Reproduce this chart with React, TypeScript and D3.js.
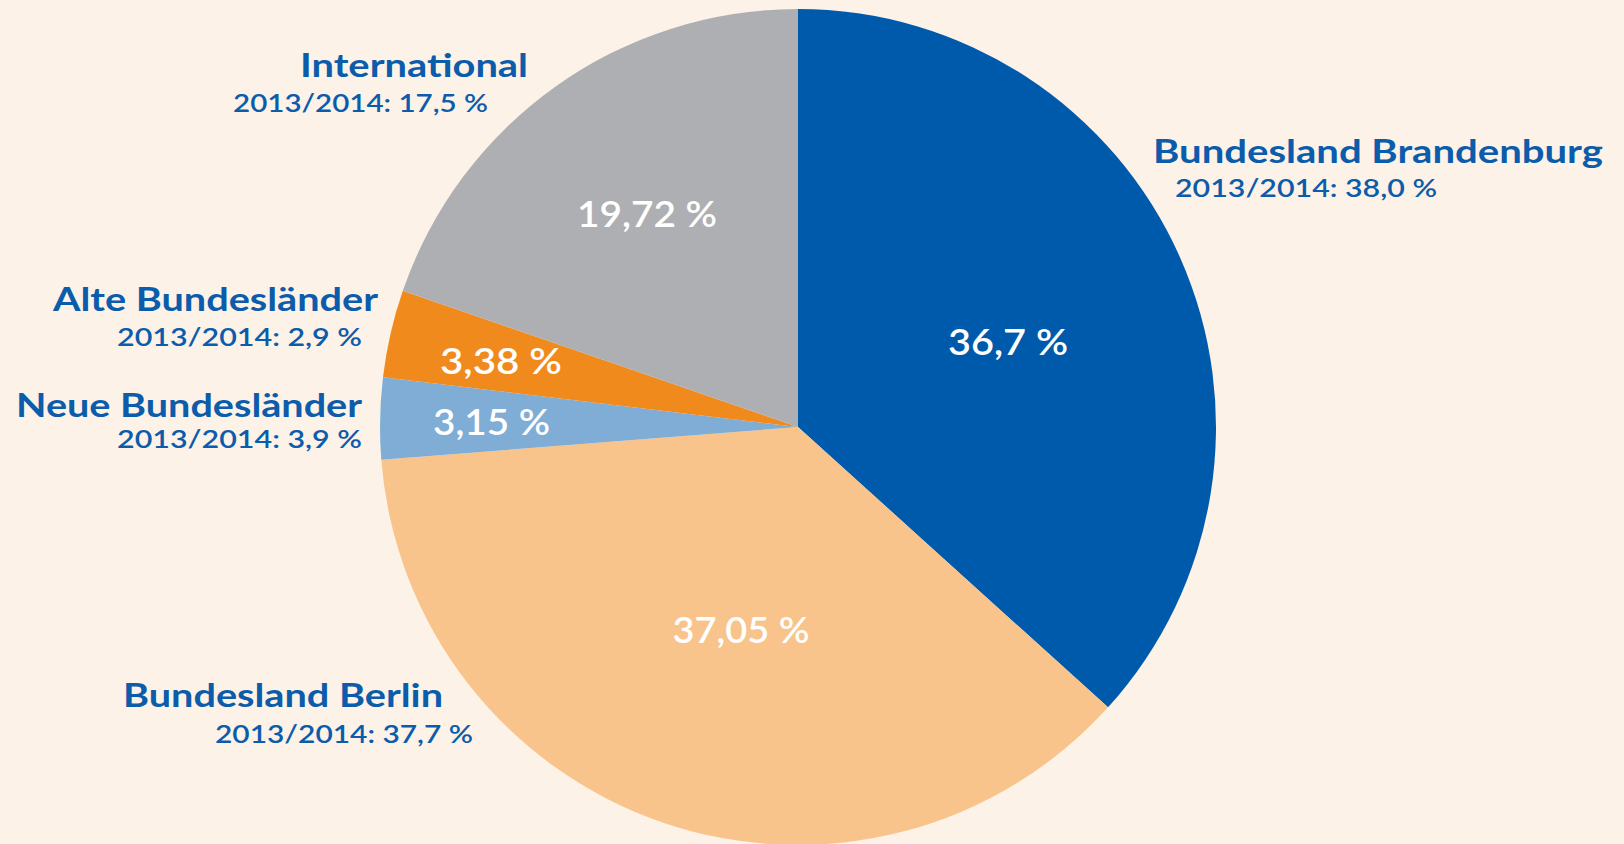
import React from "react";
import * as d3 from "d3";

const categories = ["Bundesland Brandenburg", "Bundesland Berlin", "Neue Bundesländer", "Alte Bundesländer", "International"];
const shares = [36.7, 37.05, 3.15, 3.38, 19.72];
const shareLabels = ["36,7 %", "37,05 %", "3,15 %", "3,38 %", "19,72 %"];
const previousLabels = ["2013/2014: 38,0 %", "2013/2014: 37,7 %", "2013/2014: 3,9 %", "2013/2014: 2,9 %", "2013/2014: 17,5 %"];

const colors = ["#005AAB", "#F8C48B", "#80ADD6", "#F18A1D", "#AEAFB2"];
const BG = "#FDF2E8";
const TEXT_BLUE = "#0B5CAB";

const W = 1624;
const H = 844;
const CX = 798;
const CY = 427;
const R = 418;

// label layout
const innerLayout = [
  { x: 1008, y: 355, w: 120 },
  { x: 741, y: 643, w: 137 },
  { x: 491.5, y: 435, w: 117 },
  { x: 501, y: 374, w: 122 },
  { x: 647, y: 227, w: 140 },
];
const titleLayout = [
  { x: 1153, y: 163, w: 450 },
  { x: 123, y: 707, w: 320 },
  { x: 16, y: 417, w: 346 },
  { x: 53, y: 311, w: 325 },
  { x: 300, y: 77, w: 228 },
];
const subLayout = [
  { x: 1175, y: 197, w: 262 },
  { x: 215, y: 743, w: 258 },
  { x: 117, y: 448, w: 245 },
  { x: 117, y: 346, w: 245 },
  { x: 233, y: 112, w: 255 },
];

export default function App() {
  const pie = d3.pie<number>().sort(null).value((d) => d).startAngle(0).endAngle(2 * Math.PI);
  const arcs = pie(shares);
  const arc = d3.arc<d3.PieArcDatum<number>>().innerRadius(0).outerRadius(R);
  const font = "Lato, 'Open Sans', sans-serif";

  return (
    <svg
      width={W}
      height={H}
      style={{ position: "absolute", left: 0, top: 0, display: "block" }}
      xmlns="http://www.w3.org/2000/svg"
    >
      <rect x={0} y={0} width={W} height={H} fill={BG} />
      <g transform={`translate(${CX},${CY})`}>
        {arcs.map((a, i) => (
          <path key={i} d={arc(a) || ""} fill={colors[i]} />
        ))}
      </g>
      {shareLabels.map((s, i) => (
        <text
          key={"in" + i}
          x={innerLayout[i].x}
          y={innerLayout[i].y}
          textAnchor="middle"
          fill="#FFFFFF"
          fontFamily={font}
          fontWeight={600}
          fontSize={36}
          textLength={innerLayout[i].w}
          lengthAdjust="spacingAndGlyphs"
        >
          {s}
        </text>
      ))}
      {categories.map((c, i) => (
        <g key={"lab" + i}>
          <text
            x={titleLayout[i].x}
            y={titleLayout[i].y}
            fill={TEXT_BLUE}
            fontFamily={font}
            fontWeight={700}
            fontSize={33}
            textLength={titleLayout[i].w}
            lengthAdjust="spacingAndGlyphs"
          >
            {c}
          </text>
          <text
            x={subLayout[i].x}
            y={subLayout[i].y}
            fill={TEXT_BLUE}
            fontFamily={font}
            fontWeight={600}
            fontSize={24}
            textLength={subLayout[i].w}
            lengthAdjust="spacingAndGlyphs"
          >
            {previousLabels[i]}
          </text>
        </g>
      ))}
    </svg>
  );
}
